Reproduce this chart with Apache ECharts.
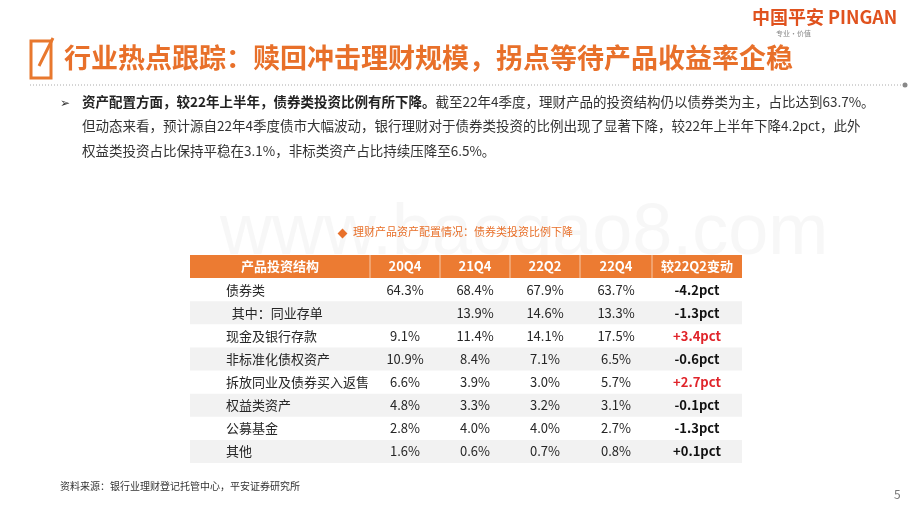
<!DOCTYPE html>
<html><head><meta charset="utf-8">
<script src="https://cdn.jsdelivr.net/npm/echarts@6/dist/echarts.min.js"></script>
<style>html,body{margin:0;padding:0;background:#fff}#c{width:920px;height:518px}</style>
</head><body><div id="c"></div>
<script>
const headers = ['产品投资结构','20Q4','21Q4','22Q2','22Q4','较22Q2变动'];
const rowNames = ['债券类','  其中：同业存单','现金及银行存款','非标准化债权资产','拆放同业及债券买入返售','权益类资产','公募基金','其他'];
const q20Q4 = ['64.3%','','9.1%','10.9%','6.6%','4.8%','2.8%','1.6%'];
const q21Q4 = ['68.4%','13.9%','11.4%','8.4%','3.9%','3.3%','4.0%','0.6%'];
const q22Q2 = ['67.9%','14.6%','14.1%','7.1%','3.0%','3.2%','4.0%','0.7%'];
const q22Q4 = ['63.7%','13.3%','17.5%','6.5%','5.7%','3.1%','2.7%','0.8%'];
const change = ['-4.2pct','-1.3pct','+3.4pct','-0.6pct','+2.7pct','-0.1pct','-1.3pct','+0.1pct'];
const redChange = [false,false,true,false,true,false,false,false];

const colEdges = [0,180,250,320,390,462,552];
const ORANGE = '#ec7b32';
const cols = [rowNames,q20Q4,q21Q4,q22Q2,q22Q4,change];
const rowCats = ['h'].concat(rowNames.map((_, i) => 'r' + i));

const cells = [];
for (let r = 0; r < rowCats.length; r++) {
  for (let c = 0; c < headers.length; c++) {
    const text = r === 0 ? headers[c] : cols[c][r - 1];
    cells.push([c, r, text]);
  }
}

const chart = echarts.init(document.getElementById('c'));
const F = '"Noto Sans CJK SC","Microsoft YaHei",sans-serif';
chart.setOption({
  animation: false,
  grid: {left: 190, right: 178, top: 255, bottom: 55},
  xAxis: {type: 'value', min: 0, max: 552, show: false},
  yAxis: {type: 'category', data: rowCats, inverse: true, show: false},
  series: [{
    type: 'custom',
    data: cells,
    renderItem: function (params, api) {
      const c = api.value(0), r = api.value(1);
      const text = cells[params.dataIndex][2];
      const p0 = api.coord([colEdges[c], r]);
      const p1 = api.coord([colEdges[c + 1], r]);
      const h = api.size([0, 1])[1];
      const y0 = p0[1] - h / 2;
      const children = [];
      let fill = null;
      if (r === 0) fill = ORANGE; else if (r % 2 === 0) fill = '#f2f2f2';
      if (fill) children.push({type: 'rect', shape: {x: p0[0], y: y0, width: p1[0] - p0[0], height: h}, style: {fill: fill}});
      if (r === 0 && c > 0) children.push({type: 'line', shape: {x1: p0[0], y1: y0, x2: p0[0], y2: y0 + h}, style: {stroke: '#f6c9a8', lineWidth: 1}});
      let color = '#262626', weight = 'normal', align = 'center', x = (p0[0] + p1[0]) / 2;
      if (r === 0) { color = '#fff'; weight = 'bold'; }
      else if (c === 0) { align = 'left'; x = p0[0] + 36; }
      if (r > 0 && c === 5) { weight = 'bold'; color = redChange[r - 1] ? '#e0242a' : '#111'; }
      children.push({type: 'text', x: x, y: p0[1], style: {text: text, fill: color, font: weight + ' 13px ' + F, align: align, verticalAlign: 'middle'}});
      return {type: 'group', children: children};
    }
  }],
  graphic: [
    {type: 'text', left: 220, top: 198, style: {text: 'www.baogao8.com', fill: 'rgba(200,200,200,0.14)', font: '72px Arial'}, z: -1},
    {type: 'text', left: 752, top: 8, style: {text: '中国平安 PINGAN', fill: '#e0521e', font: 'bold 18px ' + F}},
    {type: 'text', left: 776, top: 30, style: {text: '专业·价值', fill: '#888', font: '7px ' + F}},
    {type: 'rect', shape: {x: 31, y: 41, width: 20, height: 37}, style: {fill: '#fff', stroke: '#e8782e', lineWidth: 3}},
    {type: 'line', shape: {x1: 39, y1: 66, x2: 53, y2: 38}, style: {stroke: '#e8782e', lineWidth: 3}},
    {type: 'text', left: 64, top: 44, style: {text: '行业热点跟踪：赎回冲击理财规模，拐点等待产品收益率企稳', fill: '#e8702a', font: 'bold 27px "Noto Sans CJK SC",serif'}},
    {type: 'line', shape: {x1: 30, y1: 85, x2: 902, y2: 85}, style: {stroke: '#aaa', lineWidth: 1, lineDash: [1, 2]}},
    {type: 'circle', shape: {cx: 905, cy: 85, r: 2.5}, style: {fill: '#888'}},
    {type: 'text', left: 60, top: 96, style: {text: '➢', fill: '#333', font: '12px ' + F}},
    {type: 'text', left: 82, top: 95, style: {rich: {b: {font: 'bold 13.5px ' + F, fill: '#222'}, n: {font: '13.5px ' + F, fill: '#333'}},
      text: '{b|资产配置方面，较22年上半年，债券类投资比例有所下降。}{n|截至22年4季度，理财产品的投资结构仍以债券类为主，占比达到63.7%。}'}},
    {type: 'text', left: 82, top: 119, style: {text: '但动态来看，预计源自22年4季度债市大幅波动，银行理财对于债券类投资的比例出现了显著下降，较22年上半年下降4.2pct，此外', fill: '#333', font: '13.5px ' + F}},
    {type: 'text', left: 82, top: 144, style: {text: '权益类投资占比保持平稳在3.1%，非标类资产占比持续压降至6.5%。', fill: '#333', font: '13.5px ' + F}},
    {type: 'rect', shape: {x: 339, y: 230, width: 7, height: 7}, rotation: Math.PI / 4, originX: 342.5, originY: 233.5, style: {fill: '#e8702a'}},
    {type: 'text', left: 353, top: 226, style: {text: '理财产品资产配置情况：债券类投资比例下降', fill: '#e8702a', font: '11px ' + F}},
    {type: 'text', left: 60, top: 481, style: {text: '资料来源：银行业理财登记托管中心，平安证券研究所', fill: '#333', font: '10px ' + F}},
    {type: 'text', left: 894, top: 488, style: {text: '5', fill: '#777', font: '12px ' + F}}
  ]
});
</script></body></html>
